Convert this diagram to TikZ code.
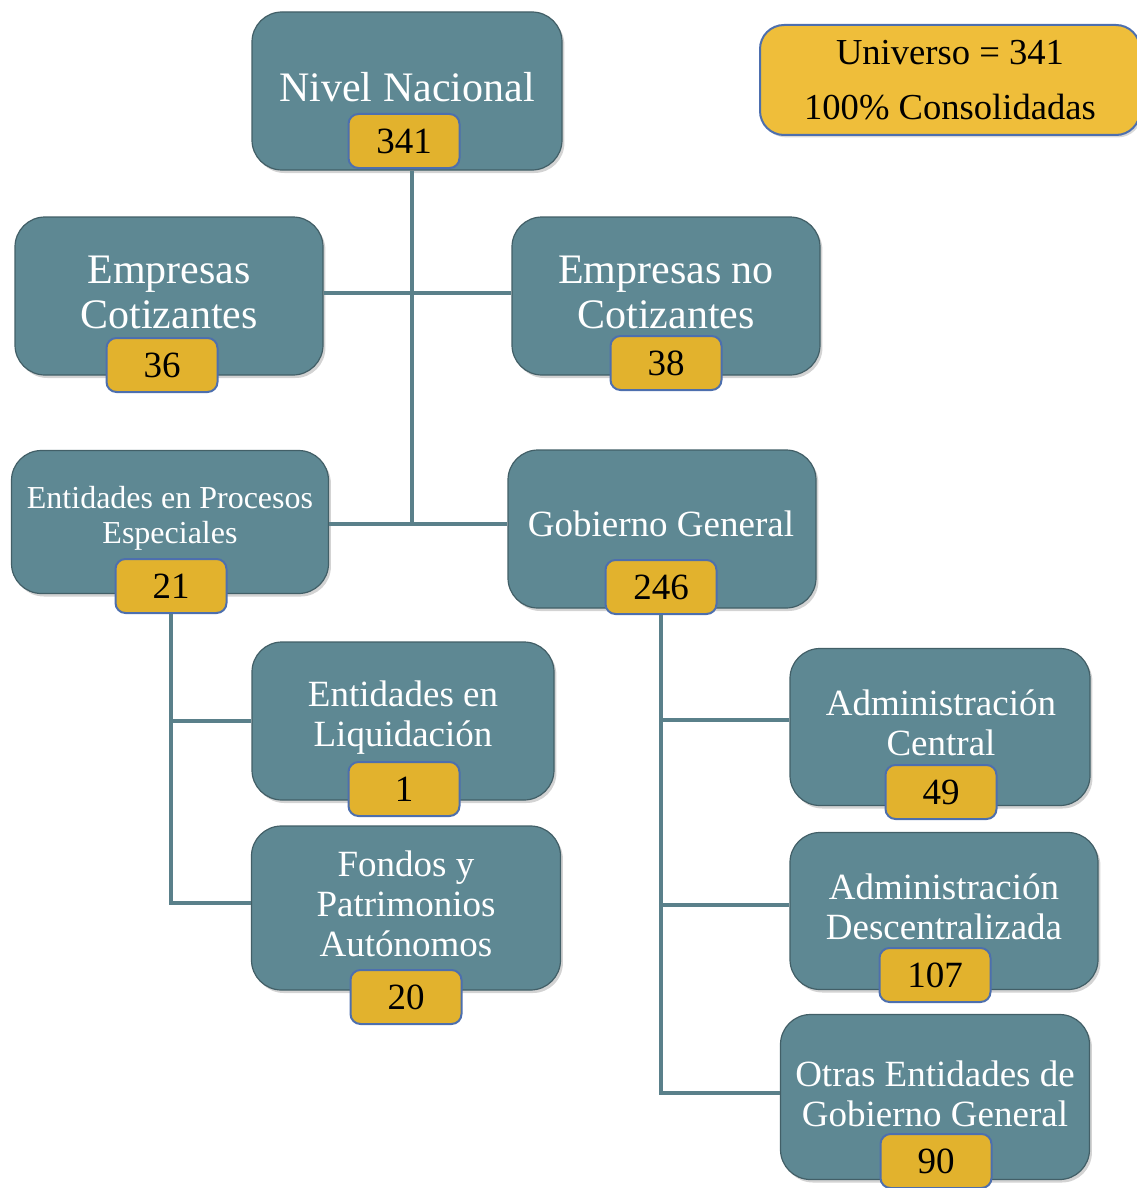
\documentclass[tikz,border=0pt]{standalone}
\usepackage{fontspec}
\setmainfont{Liberation Serif}
\usetikzlibrary{positioning,shadows,calc}
\definecolor{boxteal}{HTML}{5E8893}
\definecolor{linkteal}{HTML}{5A808A}
\definecolor{badgegold}{HTML}{E2B22D}
\definecolor{badgeblue}{HTML}{4D6FAE}
\definecolor{univgold}{HTML}{EFBE3A}
\tikzset{
	unit/.style 2 args={
		draw=boxteal!70!black, line width=.6pt, fill=boxteal,
		rounded corners=15pt, inner sep=0pt,
		minimum width=#1, minimum height=#2,
		drop shadow={opacity=.35, shadow xshift=1.2pt, shadow yshift=-1.5pt}},
	unit text/.style={text=white, align=center, inner sep=0pt},
	big/.style={font=\fontsize{21}{22.5}\selectfont},
	mid/.style={font=\fontsize{18.5}{20}\selectfont},
	small/.style={font=\fontsize{16}{17.5}\selectfont},
	count/.style={
		draw=badgeblue, line width=1pt, fill=badgegold,
		rounded corners=5pt, inner sep=0pt,
		minimum width=55.5pt, minimum height=27pt,
		font=\fontsize{18.5}{20}\selectfont},
	univ box/.style={
		draw=badgeblue, line width=1pt, fill=univgold,
		rounded corners=12pt, align=center, inner sep=0pt,
		minimum width=190pt, minimum height=55pt,
		font=\fontsize{18.3}{27.5}\selectfont,
		drop shadow={opacity=.3, shadow xshift=1pt, shadow yshift=-1.2pt}},
	link/.style={draw=linkteal, line width=2.2pt}
}

\begin{document}
\begin{tikzpicture}[x=.5pt, y=-.5pt]
   \useasboundingbox (0,0) rectangle (1136,1188);

   % boxes
   \node[unit={155pt}{79pt}] (nivel) at (407,91) {};
   \node[unit={154pt}{79pt}] (cot) at (169,296) {};
   \node[unit={154pt}{79pt}] (nocot) at (666,296) {};
   \node[unit={158.5pt}{71.5pt}] (proc) at (170,522) {};
   \node[unit={154pt}{79pt}] (gob) at (662,529) {};
   \node[unit={151pt}{79pt}] (liq) at (403,721) {};
   \node[unit={154.5pt}{82pt}] (fon) at (406,908) {};
   \node[unit={150pt}{78.5pt}] (admc) at (940,727) {};
   \node[unit={154pt}{78.5pt}] (admd) at (944,911) {};
   \node[unit={154.5pt}{82.5pt}] (otras) at (935,1097) {};
   \node[univ box] (univ) at (950,80) {Universo = 341\\100\% Consolidadas};

   % texts
   \node[unit text, big] (nivel-t) at (407,87) {Nivel Nacional};
   \node[unit text, big] (cot-t) at (169,292) {Empresas\\Cotizantes};
   \node[unit text, big] (nocot-t) at (666,292) {Empresas no\\Cotizantes};
   \node[unit text, small] (proc-t) at (170,518) {Entidades en Procesos\\Especiales};
   \node[unit text, mid] (gob-t) at (661,524) {Gobierno General};
   \node[unit text, mid] (liq-t) at (403,718) {Entidades en\\Liquidación};
   \node[unit text, mid] (fon-t) at (406,904) {Fondos y\\Patrimonios\\Autónomos};
   \node[unit text, mid] (admc-t) at (941,723) {Administración\\Central};
   \node[unit text, mid] (admd-t) at (944,907) {Administración\\Descentralizada};
   \node[unit text, mid] (otras-t) at (935,1094) {Otras Entidades de\\Gobierno General};

   % counts
   \node[count] (nivel-n) at (404,141) {341};
   \node[count] (cot-n) at (162,365) {36};
   \node[count] (nocot-n) at (666,363) {38};
   \node[count] (proc-n) at (171,586) {21};
   \node[count] (gob-n) at (661,587) {246};
   \node[count] (liq-n) at (404,789) {1};
   \node[count] (fon-n) at (406,997) {20};
   \node[count] (admc-n) at (941,792) {49};
   \node[count] (admd-n) at (935,975) {107};
   \node[count] (otras-n) at (936,1161) {90};

   % links
   \coordinate (trunk) at (412,524);
   \draw[link] (nivel.south -| trunk) -- (trunk);
   \draw[link] ([yshift=1.5pt]cot.east) -- ([yshift=1.5pt]nocot.west);
   \draw[link] ([yshift=-1pt]proc.east) -- ([yshift=-1pt]proc.east -| gob.west);
   \coordinate (left-end) at (169,903);
   \draw[link] (proc-n.south) |- (left-end) -- (left-end -| fon.west);
   \draw[link] (proc-n.south |- liq.west) -- (liq.west);
   \coordinate (right-end) at (661,1093);
   \draw[link] (gob-n.south) -- (right-end) -- (right-end -| otras.west);
   \draw[link] ([yshift=3.5pt]admc.west -| gob-n.south) -- ([yshift=3.5pt]admc.west);
   \draw[link] ([yshift=3pt]admd.west -| gob-n.south) -- ([yshift=3pt]admd.west);
\end{tikzpicture}
\end{document}
